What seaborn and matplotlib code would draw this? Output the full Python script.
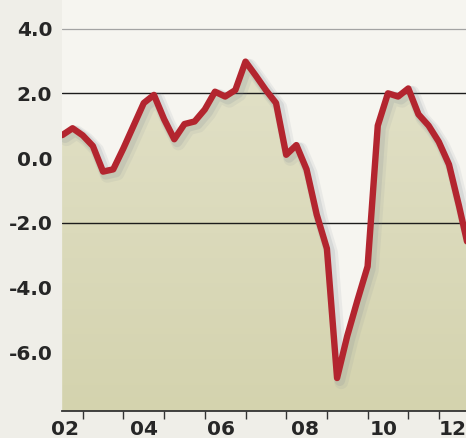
import numpy as np
import pandas as pd
import matplotlib
matplotlib.use("Agg")
import matplotlib.pyplot as plt
import matplotlib.patheffects as pe
from matplotlib.colors import LinearSegmentedColormap
import seaborn as sns

# Quarterly growth rate, 2002Q3 - 2012Q3
periods = pd.period_range("2002Q3", "2012Q3", freq="Q")
growth = [0.71, 0.92, 0.70, 0.37, -0.42, -0.35, 0.30, 1.00, 1.70, 1.95,
          1.20, 0.58, 1.05, 1.13, 1.50, 2.05, 1.90, 2.10, 2.98, 2.55,
          2.10, 1.70, 0.10, 0.40, -0.35, -1.75, -2.80, -6.80, -5.50, -4.40,
          -3.35, 1.00, 2.00, 1.90, 2.15, 1.35, 1.00, 0.50, -0.20, -1.50,
          -2.90]

# Axis furniture
y_ticks = [4.0, 2.0, 0.0, -2.0, -4.0, -6.0]
year_marks = [2003, 2004, 2005, 2006, 2007, 2008, 2009, 2010, 2011, 2011.75]
year_label_pos = [2002.57, 2004.5, 2006.4, 2008.45, 2010.4, 2012.1]
year_labels = ["02", "04", "06", "08", "10", "12"]

t = np.array([p.year + (p.quarter - 1) / 4 for p in periods])
df = pd.DataFrame({"t": t, "growth": growth})

sns.set_style("white")
plt.rcParams["font.family"] = ["DejaVu Sans"]

W, H = 466, 438
fig = plt.figure(figsize=(W / 100, H / 100), dpi=100)
fig.patch.set_facecolor("#efeee8")
ax = fig.add_axes([62 / W, 1 - 410.7 / H, 404 / W, 410.7 / H])
ax.set_facecolor("#f6f5f0")

xmin, xmax = 2002.491, 2012.418
ymin, ymax = -7.81, 4.884
ax.set_xlim(xmin, xmax)
ax.set_ylim(ymin, ymax)

# Area under the curve, shaded with a soft vertical gradient
poly = ax.fill_between(df["t"], df["growth"], ymin - 5, facecolor="#dad9b7",
                       edgecolor="none", zorder=1)
cmap = LinearSegmentedColormap.from_list("khaki", ["#d4d3ae", "#e2e1c8"])
grad = np.linspace(0, 1, 256).reshape(-1, 1)
im = ax.imshow(grad, extent=[xmin, xmax, ymin, 3.2], origin="lower",
               cmap=cmap, aspect="auto", zorder=1.5)
im.set_clip_path(poly.get_paths()[0], ax.transData)

# Reference lines
ax.axhline(4.0, color="#a3a3a3", lw=0.9, zorder=2)
for lvl in (2.0, -2.0):
    ax.axhline(lvl, color="#1c1c1c", lw=1.0, zorder=2)

# Growth line with a soft drop shadow
sns.lineplot(data=df, x="t", y="growth", ax=ax, color="#b3252f",
             linewidth=4.6, zorder=5)
line = ax.lines[-1]
line.set_solid_joinstyle("round")
line.set_solid_capstyle("round")
line.set_path_effects([
    pe.SimpleLineShadow(offset=(3.0, -3.0), shadow_color="#7d8794", alpha=0.10, linewidth=10),
    pe.SimpleLineShadow(offset=(2.0, -2.0), shadow_color="#7d8794", alpha=0.16, linewidth=7.5),
    pe.Normal(),
])

# Spines and ticks
for s in ("left", "top", "right"):
    ax.spines[s].set_visible(False)
ax.spines["bottom"].set_color("#333333")
ax.spines["bottom"].set_linewidth(1.3)
ax.spines["bottom"].set_zorder(6)

ax.set_yticks(y_ticks)
ax.set_yticklabels([f"{v:.1f}" for v in y_ticks])
ax.tick_params(axis="y", length=0, pad=7, labelsize=14.5, labelcolor="#262626")

ax.set_xticks(year_label_pos)
ax.set_xticklabels(year_labels)
ax.set_xticks(year_marks, minor=True)
ax.tick_params(axis="x", which="major", length=0, pad=6.5, labelsize=14.5,
               labelcolor="#262626")
ax.tick_params(axis="x", which="minor", length=5.5, width=1.0, color="#333333",
               direction="out", bottom=True)
for lab in ax.get_xticklabels() + ax.get_yticklabels():
    lab.set_fontweight("bold")

ax.set_xlabel("")
ax.set_ylabel("")
ax.grid(False)

fig.savefig("out.png", dpi=100, facecolor=fig.get_facecolor())
